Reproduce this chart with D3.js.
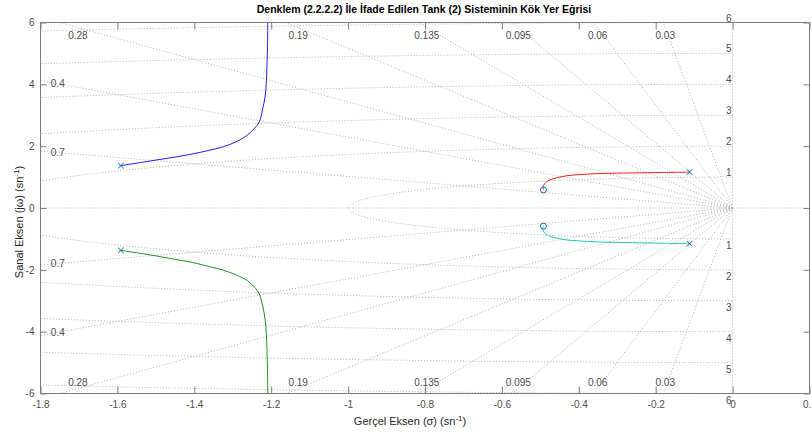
<!DOCTYPE html>
<html><head><meta charset="utf-8">
<script src="https://cdn.jsdelivr.net/npm/d3@7"></script>
<style>
body{margin:0;background:#fff}
svg{display:block}
text{font-family:"Liberation Sans",Arial,Helvetica,sans-serif}
</style>
</head><body>
<svg id="chart" width="812" height="433"></svg>
<script>
const titleText = "Denklem (2.2.2.2) İle İfade Edilen Tank (2) Sisteminin Kök Yer Eğrisi";
const xLabelMain = "Gerçel Eksen (σ) (sn";
const yLabelMain = "Sanal Eksen (jω) (sn";
const xTicks = [-1.8, -1.6, -1.4, -1.2, -1, -0.8, -0.6, -0.4, -0.2, 0, 0.2];
const yTicks = [-6, -4, -2, 0, 2, 4, 6];
const zetaValues = [0.03, 0.06, 0.095, 0.135, 0.19, 0.28, 0.4, 0.7];
const zetaLabels = ["0.03", "0.06", "0.095", "0.135", "0.19", "0.28", "0.4", "0.7"];
const wnValues = [1, 2, 3, 4, 5, 6];
const poleRe = [-1.591, -1.591, -0.112, -0.112];
const poleIm = [1.372, -1.372, 1.16, -1.155];
const zeroRe = [-0.492, -0.492];
const zeroIm = [0.585, -0.588];
// branch 1 (blue)
const b1Re = [-1.591, -1.535, -1.492, -1.448, -1.405, -1.361, -1.327, -1.292, -1.266, -1.244, -1.231, -1.223, -1.216, -1.213, -1.211, -1.2095, -1.209];
const b1Im = [1.372, 1.479, 1.566, 1.65, 1.748, 1.867, 1.974, 2.136, 2.32, 2.57, 2.783, 3.162, 3.592, 4.0, 4.6, 5.3, 6.0];
// branch 2 (green)
const b2Re = [-1.591, -1.535, -1.492, -1.448, -1.405, -1.361, -1.327, -1.292, -1.262, -1.242, -1.231, -1.222, -1.216, -1.213, -1.211, -1.2095, -1.209];
const b2Im = [-1.372, -1.476, -1.566, -1.665, -1.76, -1.895, -2.0, -2.16, -2.35, -2.58, -2.78, -3.17, -3.6, -4.0, -4.6, -5.3, -6.0];
// branch 3 (red)
const b3Re = [-0.112, -0.182, -0.26, -0.312, -0.355, -0.399, -0.433, -0.459, -0.477, -0.489, -0.4925, -0.492];
const b3Im = [1.16, 1.148, 1.135, 1.124, 1.11, 1.08, 1.04, 0.97, 0.9, 0.79, 0.68, 0.585];
// branch 4 (cyan)
const b4Re = [-0.112, -0.182, -0.26, -0.312, -0.355, -0.399, -0.433, -0.459, -0.479, -0.49, -0.4935, -0.492];
const b4Im = [-1.155, -1.14, -1.122, -1.11, -1.095, -1.065, -1.03, -0.97, -0.89, -0.79, -0.68, -0.588];
const branchColors = ["#2020ff", "#1f961f", "#ff1a1a", "#1ec3c3"];
const markerColor = "#0072bd";

const svg = d3.select("#chart");
const L = 40.5, R = 809.5, T = 22.5, B = 393.5;
const x = d3.scaleLinear().domain([-1.8, 0.2]).range([L, R]);
const y = d3.scaleLinear().domain([-6, 6]).range([B, T]);
const xmin = -1.8, xmax = 0.2, ymin = -6, ymax = 6;

svg.append("defs").append("clipPath").attr("id", "clip")
  .append("rect").attr("x", L).attr("y", T).attr("width", R - L).attr("height", B - T);

const gridColor = "#b3b3b3";
const dash = "1,2";
const grid = svg.append("g").attr("clip-path", "url(#clip)")
  .attr("fill", "none").attr("stroke", gridColor).attr("stroke-width", 1).attr("stroke-dasharray", dash);

// zeta = 1 and zeta = 0 lines
grid.append("line").attr("x1", x(xmin)).attr("x2", x(xmax)).attr("y1", y(0)).attr("y2", y(0));
grid.append("line").attr("x1", x(0)).attr("x2", x(0)).attr("y1", y(ymin)).attr("y2", y(ymax));

// damping rays
zetaValues.forEach(z => {
  const s = Math.sqrt(1 - z * z);
  [1, -1].forEach(sg => {
    grid.append("line")
      .attr("x1", x(0)).attr("y1", y(0))
      .attr("x2", x(-z * 20)).attr("y2", y(sg * s * 20));
  });
});

// natural frequency arcs
const arcLine = d3.line().x(d => x(d[0])).y(d => y(d[1]));
wnValues.forEach(w => {
  const pts = d3.range(0, 401).map(i => {
    const a = Math.PI / 2 + Math.PI * i / 400;
    return [w * Math.cos(a), w * Math.sin(a)];
  });
  grid.append("path").attr("d", arcLine(pts));
});

// grid labels
const labelColor = "#4d4d4d";
const lbl = svg.append("g").attr("font-size", 10).attr("fill", labelColor);
zetaValues.forEach((z, i) => {
  const slope = Math.sqrt(1 - z * z) / z;
  if (slope * (-xmin) > ymax) {
    const yy = 0.973 * ymax, xx = -yy / slope;
    lbl.append("text").attr("x", x(xx)).attr("y", y(yy) + 11).attr("text-anchor", "middle").text(zetaLabels[i]);
    lbl.append("text").attr("x", x(xx)).attr("y", y(-yy) - 2).attr("text-anchor", "middle").text(zetaLabels[i]);
  } else {
    const xx = 0.975 * xmin, yy = -xx * slope;
    lbl.append("text").attr("x", x(xx)).attr("y", y(yy)).attr("dy", "0.35em").attr("text-anchor", "middle").text(zetaLabels[i]);
    lbl.append("text").attr("x", x(xx)).attr("y", y(-yy)).attr("dy", "0.35em").attr("text-anchor", "middle").text(zetaLabels[i]);
  }
});
wnValues.forEach(w => {
  lbl.append("text").attr("x", x(0) - 1).attr("y", y(w) - 1).attr("text-anchor", "end").text(String(w));
  lbl.append("text").attr("x", x(0) - 1).attr("y", y(-w) + 10).attr("text-anchor", "end").text(String(w));
});

// branches
const plot = svg.append("g").attr("clip-path", "url(#clip)");
const branchLine = d3.line().x(d => x(d[0])).y(d => y(d[1])).curve(d3.curveCatmullRom.alpha(0.5));
const branches = [[b1Re, b1Im], [b2Re, b2Im], [b3Re, b3Im], [b4Re, b4Im]];
branches.forEach((b, i) => {
  const pts = b[0].map((v, k) => [v, b[1][k]]);
  plot.append("path").attr("d", branchLine(pts)).attr("fill", "none")
    .attr("stroke", branchColors[i]).attr("stroke-width", 1);
});

// poles (x) and zeros (o)
poleRe.forEach((re, i) => {
  const cx = x(re), cy = y(poleIm[i]), h = 2.8;
  plot.append("path").attr("d", `M${cx - h},${cy - h}L${cx + h},${cy + h}M${cx - h},${cy + h}L${cx + h},${cy - h}`)
    .attr("stroke", markerColor).attr("stroke-width", 1).attr("fill", "none");
});
zeroRe.forEach((re, i) => {
  plot.append("circle").attr("cx", x(re)).attr("cy", y(zeroIm[i])).attr("r", 3)
    .attr("stroke", markerColor).attr("stroke-width", 1).attr("fill", "none");
});

// axes
const axisColor = "#7f7f7f";
const tickColor = "#4d4d4d";
const fmt = d => String(d);
function styleAxis(g) {
  g.select(".domain").remove();
  g.selectAll(".tick line").attr("stroke", axisColor);
  g.selectAll(".tick text").attr("fill", tickColor).attr("font-size", 10)
    .attr("font-family", "Liberation Sans, Arial, sans-serif");
}
svg.append("g").attr("transform", `translate(0,${B})`)
  .call(d3.axisBottom(x).tickValues(xTicks).tickFormat(fmt).tickSizeInner(-7).tickSizeOuter(0).tickPadding(6))
  .call(styleAxis).selectAll(".tick text").attr("dy", "0.71em").attr("y", 7);
svg.append("g").attr("transform", `translate(0,${T})`)
  .call(d3.axisTop(x).tickValues(xTicks).tickFormat("").tickSizeInner(-7).tickSizeOuter(0))
  .call(styleAxis);
svg.append("g").attr("transform", `translate(${L},0)`)
  .call(d3.axisLeft(y).tickValues(yTicks).tickFormat(fmt).tickSizeInner(-6).tickSizeOuter(0).tickPadding(6))
  .call(styleAxis).selectAll(".tick text").attr("x", -6);
svg.append("g").attr("transform", `translate(${R},0)`)
  .call(d3.axisRight(y).tickValues(yTicks).tickFormat("").tickSizeInner(-6).tickSizeOuter(0))
  .call(styleAxis);
svg.append("rect").attr("x", L).attr("y", T).attr("width", R - L).attr("height", B - T)
  .attr("fill", "none").attr("stroke", axisColor).attr("stroke-width", 1);

// title & labels
svg.append("text").attr("x", 424).attr("y", 13).attr("text-anchor", "middle")
  .attr("font-size", 10.5).attr("font-weight", "bold").attr("fill", "#000").text(titleText);
const xl = svg.append("text").attr("x", 410).attr("y", 425).attr("text-anchor", "middle")
  .attr("font-size", 11).attr("fill", "#262626");
xl.append("tspan").text(xLabelMain);
xl.append("tspan").attr("font-size", 8).attr("dy", -4).text("-1");
xl.append("tspan").attr("dy", 4).text(")");
const yl = svg.append("text").attr("transform", "translate(23,222) rotate(-90)").attr("text-anchor", "middle")
  .attr("font-size", 11).attr("fill", "#262626");
yl.append("tspan").text(yLabelMain);
yl.append("tspan").attr("font-size", 8).attr("dy", -4).text("-1");
yl.append("tspan").attr("dy", 4).text(")");
</script>
</body></html>
